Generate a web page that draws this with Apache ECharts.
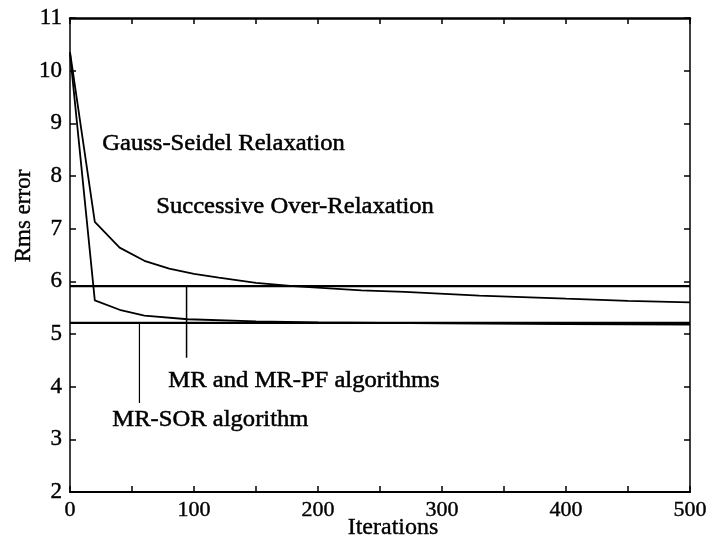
<!DOCTYPE html>
<html>
<head>
<meta charset="utf-8">
<script src="https://cdn.jsdelivr.net/npm/echarts@6/dist/echarts.min.js"></script>
<style>html,body{margin:0;padding:0;background:#fff}#c{width:716px;height:541px}</style>
</head>
<body>
<div id="c"></div>
<script>
// Gauss-Seidel (upper curve)
var gsIter = [0, 20, 40, 60, 80, 100, 120, 150, 180, 235, 270, 330, 400, 450, 500];
var gsRms  = [10.35, 7.13, 6.64, 6.39, 6.24, 6.14, 6.07, 5.97, 5.91, 5.83, 5.80, 5.73, 5.67, 5.63, 5.60];
// SOR (lower curve)
var sorIter = [0, 20, 40, 60, 95, 150, 200, 300, 400, 500];
var sorRms  = [10.33, 5.64, 5.46, 5.35, 5.28, 5.24, 5.22, 5.20, 5.19, 5.18];
// Horizontal levels
var mrLevel = 5.91;
var mrsorLevel = 5.21;
// Pointer lines [iteration, from, to]
var mrPointer = [94, 5.91, 4.55];
var mrsorPointer = [56, 5.21, 3.69];
var xTicks = [0, 100, 200, 300, 400, 500];

function pairs(xs, ys){ return xs.map(function(x,i){return [x, ys[i]];}); }

var chart = echarts.init(document.getElementById('c'));
var F = '"Liberation Serif", "Times New Roman", serif';
function lineSeries(data, w){
  return {type:'line', data:data, symbol:'none', lineStyle:{color:'#000', width:w||1.8}, animation:false, silent:true};
}
function label(txt, l, t){
  return {type:'text', left:l, top:t, scaleX:1.07,
    style:{text:txt, font:'23px '+F, fill:'#000', stroke:'#000', lineWidth:0.5}};
}
chart.setOption({
  animation:false,
  grid:{left:70, right:26, top:18, bottom:49, containLabel:false, outerBoundsMode:'none'},
  xAxis:[{
    type:'value', min:0, max:500, interval:50, position:'bottom',
    axisLine:{onZero:false, lineStyle:{color:'#000', width:2}},
    axisTick:{inside:true, length:6, lineStyle:{color:'#000', width:1.5}},
    splitLine:{show:false},
    axisLabel:{color:'#000', fontFamily:F, fontSize:22, margin:7, textBorderColor:'#000', textBorderWidth:0.4,
      formatter:function(v){ return xTicks.indexOf(v) >= 0 ? String(v) : ''; }}
  },{
    type:'value', min:0, max:500, interval:50, position:'top',
    axisLine:{onZero:false, lineStyle:{color:'#000', width:2.5}},
    axisTick:{inside:true, length:6, lineStyle:{color:'#000', width:1.5}},
    axisLabel:{show:false}, splitLine:{show:false}
  }],
  yAxis:[{
    type:'value', min:2, max:11, interval:1, position:'left',
    axisLine:{onZero:false, lineStyle:{color:'#000', width:1.5}},
    axisTick:{inside:true, length:6, lineStyle:{color:'#000', width:1.5}},
    splitLine:{show:false},
    axisLabel:{color:'#000', fontFamily:F, fontSize:23, margin:8, textBorderColor:'#000', textBorderWidth:0.4}
  },{
    type:'value', min:2, max:11, interval:1, position:'right',
    axisLine:{onZero:false, lineStyle:{color:'#000', width:1.5}},
    axisTick:{inside:true, length:6, lineStyle:{color:'#000', width:1.5}},
    axisLabel:{show:false}, splitLine:{show:false}
  }],
  series:[
    lineSeries(pairs(gsIter, gsRms)),
    lineSeries(pairs(sorIter, sorRms)),
    lineSeries([[0, mrLevel],[500, mrLevel]], 2.2),
    lineSeries([[0, mrsorLevel],[500, mrsorLevel]], 2.2),
    lineSeries([[mrPointer[0], mrPointer[1]],[mrPointer[0], mrPointer[2]]], 1.5),
    lineSeries([[mrsorPointer[0], mrsorPointer[1]],[mrsorPointer[0], mrsorPointer[2]]], 1.2)
  ],
  graphic:[
    label('Gauss-Seidel Relaxation', 102, 132),
    label('Successive Over-Relaxation', 156, 195),
    label('MR and MR-PF algorithms', 168, 369),
    label('MR-SOR algorithm', 112, 408),
    {type:'text', x:393, y:528, style:{text:'Iterations', font:'24px '+F, fill:'#000', stroke:'#000', lineWidth:0.4, align:'center', verticalAlign:'middle'}},
    {type:'text', x:24, y:216, rotation:Math.PI/2, style:{text:'Rms error', font:'23px '+F, fill:'#000', stroke:'#000', lineWidth:0.4, align:'center', verticalAlign:'middle'}}
  ]
});
</script>
</body>
</html>
